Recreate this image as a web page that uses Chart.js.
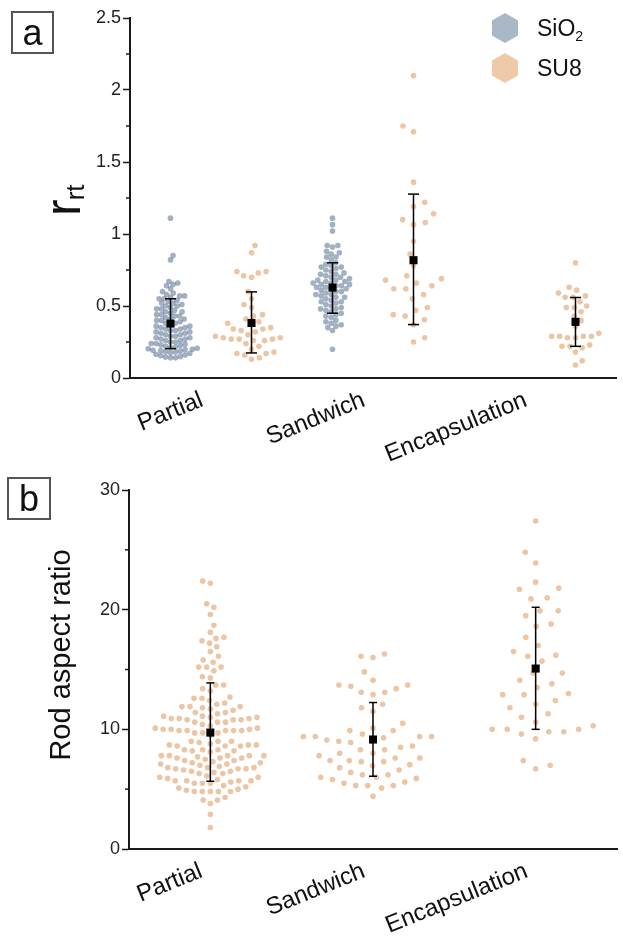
<!DOCTYPE html>
<html>
<head>
<meta charset="utf-8">
<script src="https://cdn.jsdelivr.net/npm/chart.js@4.4.1/dist/chart.umd.min.js"></script>
<style>
  body { margin: 0; background: #fff; font-family: 'Liberation Sans', Arial, sans-serif; }
  #page { position: relative; width: 623px; height: 938px; overflow: hidden; }
  canvas { position: absolute; left: 0; }
  .panel-tag {
    position: absolute; box-sizing: border-box; border: 2px solid #555;
    font-size: 36px; line-height: 39px; text-align: center; color: #111;
  }
</style>
</head>
<body>
<div id="page">
  <canvas id="chartB" width="623" height="478" style="top:460px"></canvas>
  <canvas id="chartA" width="623" height="480" style="top:0"></canvas>
  <div class="panel-tag" style="left:11px;top:11px;width:43px;height:43px;">a</div>
  <div class="panel-tag" style="left:7px;top:477px;width:44px;height:43px;">b</div>
</div>
<script>
// ---- data, panel a (r_rt) ----
const categories = ['Partial', 'Sandwich', 'Encapsulation'];

const rrtSiO2Partial = [1.11, 0.85, 0.82, 0.67, 0.66, 0.65, 0.64, 0.62, 0.60, 0.59, 0.58, 0.57, 0.57, 0.56,
  0.55, 0.55, 0.54, 0.53, 0.52, 0.52, 0.51, 0.50, 0.50, 0.49, 0.48, 0.48, 0.47, 0.46, 0.46, 0.45, 0.44,
  0.44, 0.43, 0.43, 0.42, 0.41, 0.41, 0.40, 0.40, 0.39, 0.38, 0.38, 0.37, 0.36, 0.36, 0.35, 0.35, 0.34,
  0.34, 0.33, 0.33, 0.32, 0.32, 0.31, 0.31, 0.30, 0.30, 0.29, 0.29, 0.28, 0.28, 0.27, 0.27, 0.26, 0.26,
  0.25, 0.25, 0.24, 0.24, 0.235, 0.23, 0.225, 0.22, 0.215, 0.21, 0.207, 0.203, 0.20, 0.197, 0.193, 0.19,
  0.187, 0.183, 0.18, 0.175, 0.17, 0.165, 0.16, 0.155, 0.15, 0.145, 0.14, 0.14];
const rrtSU8Partial = [0.92, 0.87, 0.74, 0.74, 0.73, 0.71, 0.70, 0.60, 0.55, 0.51, 0.49, 0.44, 0.43, 0.41,
  0.39, 0.38, 0.37, 0.35, 0.34, 0.34, 0.33, 0.32, 0.30, 0.29, 0.28, 0.28, 0.27, 0.27, 0.27, 0.26, 0.26,
  0.24, 0.22, 0.20, 0.18, 0.17, 0.17, 0.16, 0.14, 0.13];
const rrtSiO2Sandwich = [1.11, 1.065, 1.02, 0.92, 0.92, 0.91, 0.88, 0.87, 0.86, 0.84, 0.84, 0.82, 0.80, 0.79,
  0.78, 0.77, 0.77, 0.76, 0.75, 0.74, 0.73, 0.72, 0.72, 0.71, 0.70, 0.70, 0.69, 0.68, 0.68, 0.67, 0.67,
  0.66, 0.66, 0.65, 0.65, 0.64, 0.64, 0.63, 0.63, 0.62, 0.62, 0.61, 0.60, 0.60, 0.59, 0.58, 0.58, 0.57,
  0.56, 0.56, 0.55, 0.54, 0.53, 0.53, 0.52, 0.51, 0.50, 0.49, 0.48, 0.48, 0.47, 0.46, 0.45, 0.44, 0.43,
  0.42, 0.40, 0.39, 0.38, 0.37, 0.36, 0.35, 0.33, 0.20];
const rrtSU8Sandwich = [2.10, 1.75, 1.71, 1.36, 1.22, 1.19, 1.14, 1.10, 1.08, 1.065, 0.95, 0.86, 0.78, 0.71,
  0.69, 0.68, 0.66, 0.64, 0.62, 0.62, 0.58, 0.55, 0.49, 0.47, 0.44, 0.43, 0.405, 0.37, 0.28, 0.25];
const rrtSU8Encapsulation = [0.80, 0.63, 0.61, 0.59, 0.57, 0.56, 0.56, 0.53, 0.50, 0.49, 0.49, 0.46, 0.43,
  0.40, 0.36, 0.31, 0.29, 0.29, 0.29, 0.29, 0.28, 0.28, 0.23, 0.22, 0.22, 0.21, 0.18, 0.12, 0.09];

// mean and bar ends per category (null = no group)
const rrtSiO2Mean = [0.378, 0.628, null];
const rrtSiO2Low = [0.204, 0.45, null];
const rrtSiO2High = [0.55, 0.80, null];
const rrtSU8Mean = [0.382, 0.818, 0.39];
const rrtSU8Low = [0.174, 0.371, 0.22];
const rrtSU8High = [0.598, 1.277, 0.559];

// ---- data, panel b (rod aspect ratio, SU8) ----
const arPartial = [22.4, 22.2, 20.5, 20.2, 19.6, 18.7, 18.1, 17.7, 17.6, 17.4, 17.2, 16.9, 16.5, 16.1, 15.8,
  15.6, 15.2, 15.2, 15.2, 14.9, 14.4, 14.3, 13.7, 13.7, 13.4, 13.2, 12.7, 12.6, 12.6, 12.4, 12.2, 12.1,
  11.9, 11.9, 11.9, 11.8, 11.7, 11.6, 11.4, 11.4, 11.3, 11.1, 11.0, 11.0, 10.9, 10.9, 10.8, 10.8, 10.8,
  10.6, 10.6, 10.6, 10.4, 10.3, 11.1, 10.9, 10.1, 10.1, 10.0, 10.0, 10.0, 9.9, 9.9, 9.9, 9.9, 9.7, 9.7,
  9.7, 9.9, 9.5, 9.0, 9.0, 9.0, 8.9, 8.8, 8.7, 8.7, 8.7, 8.6, 8.6, 8.6, 8.3, 8.3, 8.3, 8.2, 8.2, 8.1,
  7.8, 7.8, 7.8, 7.7, 7.6, 7.6, 7.6, 7.8, 7.8, 7.5, 7.4, 7.4, 7.2, 7.2, 7.1, 7.1, 6.9, 6.8, 6.8, 6.8,
  6.7, 6.7, 6.7, 6.6, 6.5, 6.5, 6.4, 6.3, 6.3, 7.0, 7.3, 6.1, 6.0, 6.0, 5.9, 5.8, 5.7, 5.7, 5.7, 5.7,
  5.6, 5.5, 5.5, 5.5, 5.3, 5.2, 5.1, 5.0, 4.9, 4.8, 4.8, 4.8, 4.8, 4.8, 4.3, 4.1, 4.1, 3.8, 2.9, 1.8];
const arSandwich = [16.3, 16.1, 16.0, 14.8, 14.1, 13.7, 13.7, 13.6, 13.4, 13.1, 13.1, 12.9, 12.1, 11.8, 11.5,
  10.5, 10.1, 9.9, 9.9, 9.6, 9.4, 9.4, 9.4, 9.4, 9.3, 9.1, 9.0, 9.0, 8.9, 8.6, 8.5, 8.3, 8.3, 8.0, 8.0,
  7.8, 7.6, 7.6, 7.4, 7.4, 7.3, 7.3, 7.05, 6.95, 6.8, 6.6, 6.4, 6.2, 6.2, 6.0, 6.0, 5.9, 5.8, 5.6, 5.5,
  5.3, 5.3, 5.3, 5.1, 4.4];
const arEncapsulation = [27.4, 24.8, 23.9, 22.3, 21.8, 21.7, 21.0, 20.9, 19.9, 19.9, 19.5, 18.8, 18.6, 17.7,
  17.0, 16.5, 16.2, 16.1, 15.7, 14.7, 14.7, 14.1, 13.8, 13.5, 13.0, 12.9, 12.9, 12.4, 12.1, 11.8, 11.3,
  11.0, 10.6, 10.3, 10.0, 10.0, 10.0, 9.8, 9.8, 9.6, 9.2, 7.4, 7.0, 6.7];
const arMean = [9.73, 9.15, 15.08];
const arLow = [5.66, 6.08, 10.0];
const arHigh = [13.88, 12.24, 20.2];

// ---- styles ----
const FONT = '"Liberation Sans", Arial, sans-serif';
const SIO2_DOT = 'rgba(50, 80, 120, 0.45)';
const SU8_DOT = 'rgba(220, 150, 90, 0.55)';
const SIO2_HEX = '#a9b8c7';
const SU8_HEX = '#efcaa6';
const AXIS = '#1a1a1a';

// beeswarm: spread points sideways (in pixels) so they do not overlap
function swarm(chart, values, center, spacing) {
  const xs = chart.scales.x, ys = chart.scales.y;
  const cx = xs.getPixelForValue(center);
  const placed = [];
  const order = values.map((v, i) => i).sort((a, b) => values[a] - values[b]);
  const out = [];
  order.forEach((i, n) => {
    const py = ys.getPixelForValue(values[i]);
    const blocked = [];
    placed.forEach(p => {
      const dy = Math.abs(p.y - py);
      if (dy < spacing) {
        const w = Math.sqrt(spacing * spacing - dy * dy);
        blocked.push([p.dx - w, p.dx + w]);
      }
    });
    const cands = [0];
    // alternate which side wins a tie, keeps the swarm symmetric
    blocked.forEach(b => { if (n % 2) cands.push(b[1], b[0]); else cands.push(b[0], b[1]); });
    cands.sort((a, b) => Math.abs(a) - Math.abs(b));
    const dx = cands.find(c => blocked.every(b => c <= b[0] + 1e-6 || c >= b[1] - 1e-6));
    placed.push({ dx: dx, y: py });
    out.push({ x: xs.getValueForPixel(cx + dx), y: values[i] });
  });
  return out;
}

function errorBars(centers, lows, highs) {
  const pts = [];
  centers.forEach((c, i) => {
    if (lows[i] == null) return;
    pts.push({ x: c, y: lows[i] }, { x: c, y: highs[i] }, { x: c, y: null });
  });
  return pts;
}

function meanPoints(centers, means) {
  return centers.map((c, i) => ({ x: c, y: means[i] })).filter(p => p.y != null);
}

// short ticks half way between the labelled ones
const minorTicks = {
  id: 'minorTicks',
  afterDraw(chart) {
    const y = chart.scales.y, ctx = chart.ctx, x0 = chart.chartArea.left;
    ctx.save();
    ctx.strokeStyle = AXIS;
    ctx.lineWidth = 1.5;
    for (let i = 0; i < y.ticks.length - 1; i++) {
      const p = y.getPixelForValue((y.ticks[i].value + y.ticks[i + 1].value) / 2);
      ctx.beginPath();
      ctx.moveTo(x0 - 4, p);
      ctx.lineTo(x0, p);
      ctx.stroke();
    }
    ctx.restore();
  }
};

// y title "r_rt" with subscript
const rrtTitle = {
  id: 'rrtTitle',
  afterDraw(chart) {
    const ctx = chart.ctx;
    ctx.save();
    ctx.translate(80, 216);
    ctx.rotate(-Math.PI / 2);
    ctx.fillStyle = '#111';
    ctx.textBaseline = 'alphabetic';
    ctx.font = '50px ' + FONT;
    ctx.fillText('r', 0, 0);
    const w = ctx.measureText('r').width;
    ctx.font = '26px ' + FONT;
    ctx.fillText('rt', w - 1, 4);
    ctx.restore();
  }
};

// legend with hexagon swatches, top right of panel a
const legendEntries = [
  { name: 'SiO', sub: '2', color: SIO2_HEX },
  { name: 'SU8', sub: '', color: SU8_HEX }
];
const hexLegend = {
  id: 'hexLegend',
  afterDraw(chart) {
    const ctx = chart.ctx;
    ctx.save();
    legendEntries.forEach((item, i) => {
      const cx = 505, cy = 28 + i * 40, r = 15;
      ctx.beginPath();
      for (let k = 0; k < 6; k++) {
        const a = -Math.PI / 2 + k * Math.PI / 3;
        const px = cx + r * Math.cos(a), py = cy + r * Math.sin(a);
        if (k === 0) ctx.moveTo(px, py); else ctx.lineTo(px, py);
      }
      ctx.closePath();
      ctx.fillStyle = item.color;
      ctx.fill();
      ctx.fillStyle = '#111';
      ctx.textBaseline = 'alphabetic';
      ctx.font = '23px ' + FONT;
      ctx.fillText(item.name, 537, cy + 8);
      if (item.sub) {
        const w = ctx.measureText(item.name).width;
        ctx.font = '14px ' + FONT;
        ctx.fillText(item.sub, 537 + w, cy + 13);
      }
    });
    ctx.restore();
  }
};

const yTitleB = {
  id: 'yTitleB',
  afterDraw(chart) {
    const ctx = chart.ctx;
    ctx.save();
    ctx.translate(62, 195);
    ctx.rotate(-Math.PI / 2);
    ctx.fillStyle = '#111';
    ctx.font = '29px ' + FONT;
    ctx.textAlign = 'center';
    ctx.textBaseline = 'middle';
    ctx.fillText('Rod aspect ratio', 0, 0);
    ctx.restore();
  }
};

function axes(opts) {
  return {
    x: {
      type: 'linear',
      min: 0,
      max: opts.slots,
      afterBuildTicks: axis => { axis.ticks = opts.labelAt.map(v => ({ value: v })); },
      afterFit: scale => { scale.height = opts.xHeight; },
      ticks: {
        callback: value => categories[opts.labelAt.indexOf(value)],
        minRotation: 22,
        maxRotation: 22,
        labelOffset: -9,
        padding: opts.labelPad,
        color: '#111',
        font: { size: 24, family: FONT }
      },
      grid: { display: false, drawTicks: false },
      border: { display: true, color: AXIS, width: 2 }
    },
    y: {
      min: 0,
      max: opts.yMax,
      afterFit: scale => { scale.width = opts.yWidth; },
      ticks: {
        stepSize: opts.step,
        padding: 2,
        color: '#222',
        font: { size: 18, family: FONT },
        callback: value => String(value)
      },
      grid: { display: true, drawOnChartArea: false, drawTicks: true, tickLength: 7, tickColor: AXIS, tickWidth: 1.5 },
      border: { display: true, color: AXIS, width: 2 }
    }
  };
}

// ---- panel a ----
const sio2Centers = [0.5, 2.5, 4.5];
const su8Centers = [1.5, 3.5, 5.5];

const chartA = new Chart(document.getElementById('chartA'), {
  type: 'scatter',
  data: {
    datasets: [
      { label: 'mean', order: 0, data: meanPoints(sio2Centers, rrtSiO2Mean).concat(meanPoints(su8Centers, rrtSU8Mean)),
        pointStyle: 'rect', pointRadius: 5.7, backgroundColor: '#000', borderWidth: 0 },
      { label: 'error', order: 1, data: errorBars(sio2Centers, rrtSiO2Low, rrtSiO2High).concat(errorBars(su8Centers, rrtSU8Low, rrtSU8High)),
        showLine: true, spanGaps: false, borderColor: '#000', borderWidth: 1.5,
        pointStyle: 'line', pointRadius: 5.5, pointBorderColor: '#000', pointBorderWidth: 1.5 },
      { label: 'SiO2', order: 2, data: [], backgroundColor: SIO2_DOT, borderWidth: 0, pointRadius: 2.8 },
      { label: 'SU8', order: 3, data: [], backgroundColor: SU8_DOT, borderWidth: 0, pointRadius: 2.8 }
    ]
  },
  options: {
    responsive: false,
    animation: false,
    layout: { padding: { left: 0, right: 3, top: 18, bottom: 0 } },
    plugins: { legend: { display: false }, tooltip: { enabled: false } },
    scales: axes({ slots: 6, labelAt: [1, 3, 5], xHeight: 102, labelPad: 8, yMax: 2.5, step: 0.5, yWidth: 130 })
  },
  plugins: [minorTicks, rrtTitle, hexLegend]
});

chartA.data.datasets[2].data = swarm(chartA, rrtSiO2Partial, 0.5, 5)
  .concat(swarm(chartA, rrtSiO2Sandwich, 2.5, 5.5));
chartA.data.datasets[3].data = swarm(chartA, rrtSU8Partial, 1.5, 8)
  .concat(swarm(chartA, rrtSU8Sandwich, 3.5, 12))
  .concat(swarm(chartA, rrtSU8Encapsulation, 5.5, 8));
chartA.update();

// ---- panel b ----
const arCenters = [0.5, 1.5, 2.5];

const chartB = new Chart(document.getElementById('chartB'), {
  type: 'scatter',
  data: {
    datasets: [
      { label: 'mean', order: 0, data: meanPoints(arCenters, arMean),
        pointStyle: 'rect', pointRadius: 5.7, backgroundColor: '#000', borderWidth: 0 },
      { label: 'error', order: 1, data: errorBars(arCenters, arLow, arHigh),
        showLine: true, spanGaps: false, borderColor: '#000', borderWidth: 1.5,
        pointStyle: 'line', pointRadius: 4, pointBorderColor: '#000', pointBorderWidth: 1.5 },
      { label: 'SU8', order: 2, data: [], backgroundColor: SU8_DOT, borderWidth: 0, pointRadius: 2.8 }
    ]
  },
  options: {
    responsive: false,
    animation: false,
    layout: { padding: { left: 0, right: 6, top: 30, bottom: 0 } },
    plugins: { legend: { display: false }, tooltip: { enabled: false } },
    scales: axes({ slots: 3, labelAt: [0.5, 1.5, 2.5], xHeight: 89, labelPad: 8, yMax: 30, step: 10, yWidth: 129 })
  },
  plugins: [minorTicks, yTitleB]
});

chartB.data.datasets[2].data = swarm(chartB, arPartial, 0.5, 8)
  .concat(swarm(chartB, arSandwich, 1.5, 12))
  .concat(swarm(chartB, arEncapsulation, 2.5, 15));
chartB.update();
</script>
</body>
</html>
